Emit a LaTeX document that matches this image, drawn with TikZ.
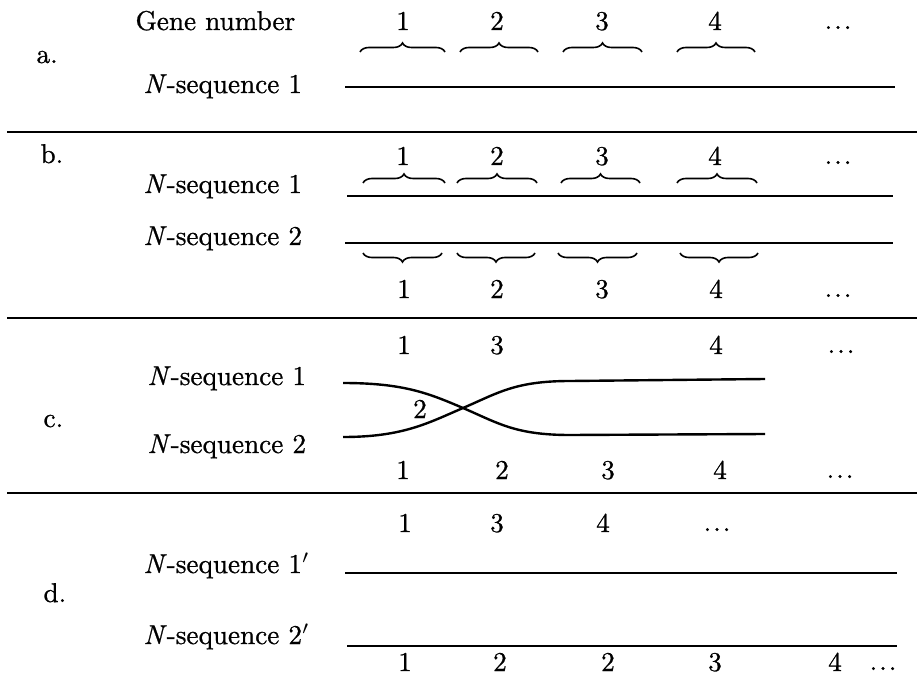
\documentclass[tikz,border=0pt]{standalone}
\usepackage{fontspec}
\setmainfont{Latin Modern Roman}[FakeBold=0.8]
\usetikzlibrary{decorations.pathreplacing}
\newcommand{\gdots}{.\kern0.75pt.\kern0.75pt.}
\begin{document}
\begin{tikzpicture}[x=1pt,y=-1pt,
  lbl/.style={anchor=base west, inner sep=0pt, scale=2.72, font=\fontsize{10}{12}\selectfont},
  num/.style={anchor=base, inner sep=0pt, scale=2.72, font=\fontsize{10}{12}\selectfont},
  seqline/.style={line width=2.4pt},
  sepline/.style={line width=2.1pt},
  gbrace/.style={decorate, decoration={brace, amplitude=9pt}, line width=1.6pt},
  gbracedown/.style={decorate, decoration={brace, mirror, amplitude=9pt}, line width=1.6pt}]
\useasboundingbox (0,0) rectangle (917,684);

% ---------- a ----------
\node[lbl] (gn) at (135,30) {Gene number};
\node[lbl] (la) at (36,63) {a.};
\node[lbl] (sa) at (143,93) {\textit{N}-sequence 1};
\node[num] (a1) at (403,30) {1};
\node[num] (a2) at (497,30) {2};
\node[num] (a3) at (602,30) {3};
\node[num] (a4) at (715,30) {4};
\node[num] (ad) at (838,29) {\gdots};
\draw[gbrace] (360,52) -- (445,52);
\draw[gbrace] (460,52) -- (538,52);
\draw[gbrace] (563,52) -- (642,52);
\draw[gbrace] (677,52) -- (755,52);
\coordinate (aL) at (345,87); \coordinate (aR) at (895,87);
\draw[seqline] (aL) -- (aR);

\coordinate (s1L) at (7,132); \coordinate (s1R) at (917,132);
\draw[sepline] (s1L) -- (s1R);

% ---------- b ----------
\node[lbl] (lb) at (40,163) {b.};
\node[lbl] (sb1) at (143,193) {\textit{N}-sequence 1};
\node[lbl] (sb2) at (143,245) {\textit{N}-sequence 2};
\node[num] (bt1) at (403,165) {1};
\node[num] (bt2) at (497,165) {2};
\node[num] (bt3) at (602,165) {3};
\node[num] (bt4) at (715,165) {4};
\node[num] (btd) at (838,164) {\gdots};
\draw[gbrace] (363,183) -- (445,183);
\draw[gbrace] (457,183) -- (537,183);
\draw[gbrace] (561,183) -- (640,183);
\draw[gbrace] (677,183) -- (757,183);
\coordinate (b1L) at (347,196); \coordinate (b1R) at (893,196);
\draw[seqline] (b1L) -- (b1R);
\coordinate (b2L) at (345,243); \coordinate (b2R) at (893,243);
\draw[seqline] (b2L) -- (b2R);
\draw[gbracedown] (363,253) -- (442,253);
\draw[gbracedown] (457,253) -- (535,253);
\draw[gbracedown] (558,253) -- (637,253);
\draw[gbracedown] (680,253) -- (758,253);
\node[num] (bb1) at (404,298) {1};
\node[num] (bb2) at (497,298) {2};
\node[num] (bb3) at (602,298) {3};
\node[num] (bb4) at (716,298) {4};
\node[num] (bbd) at (838,297) {\gdots};

\coordinate (s2L) at (7,318); \coordinate (s2R) at (917,318);
\draw[sepline] (s2L) -- (s2R);

% ---------- c ----------
\node[lbl] (lc) at (43,427) {c.};
\node[lbl] (sc1) at (147,385) {\textit{N}-sequence 1};
\node[lbl] (sc2) at (147,453) {\textit{N}-sequence 2};
\node[num] (ct1) at (404,354) {1};
\node[num] (ct3) at (497,354) {3};
\node[num] (ct4) at (716,354) {4};
\node[num] (ctd) at (841,353) {\gdots};
\node[num] (c2) at (420,418) {2};
\coordinate (c1L) at (343,383); \coordinate (cx) at (463,408);
\coordinate (c1M) at (570,435); \coordinate (c1R) at (765,434);
\coordinate (c2L) at (343,437); \coordinate (c2M) at (570,381); \coordinate (c2R) at (765,379);
\draw[seqline] (c1L) .. controls (403,383) and (428,393) .. (cx)
  .. controls (498,423) and (515,435) .. (c1M) -- (c1R);
\draw[seqline] (c2L) .. controls (403,437) and (428,423) .. (cx)
  .. controls (498,393) and (515,381) .. (c2M) -- (c2R);
\node[num] (cb1) at (403,479) {1};
\node[num] (cb2) at (502,479) {2};
\node[num] (cb3) at (608,479) {3};
\node[num] (cb4) at (720,479) {4};
\node[num] (cbd) at (840,478) {\gdots};

\coordinate (s3L) at (7,493); \coordinate (s3R) at (917,493);
\draw[sepline] (s3L) -- (s3R);

% ---------- d ----------
\node[lbl] (ld) at (43,602) {d.};
\node[lbl] (sd1) at (143,573) {\textit{N}-sequence 1$'$};
\node[lbl] (sd2) at (143,644) {\textit{N}-sequence 2$'$};
\node[num] (dt1) at (405,532) {1};
\node[num] (dt3) at (497,532) {3};
\node[num] (dt4) at (603,532) {4};
\node[num] (dtd) at (717,531) {\gdots};
\coordinate (d1L) at (345,573); \coordinate (d1R) at (897,573);
\draw[seqline] (d1L) -- (d1R);
\coordinate (d2L) at (347,646); \coordinate (d2R) at (897,646);
\draw[seqline] (d2L) -- (d2R);
\node[num] (db1) at (405,671) {1};
\node[num] (db2) at (500,671) {2};
\node[num] (db2b) at (608,671) {2};
\node[num] (db3) at (715,671) {3};
\node[num] (db4) at (835,671) {4};
\node[num] (dbd) at (883,670) {\gdots};
\end{tikzpicture}
\end{document}
